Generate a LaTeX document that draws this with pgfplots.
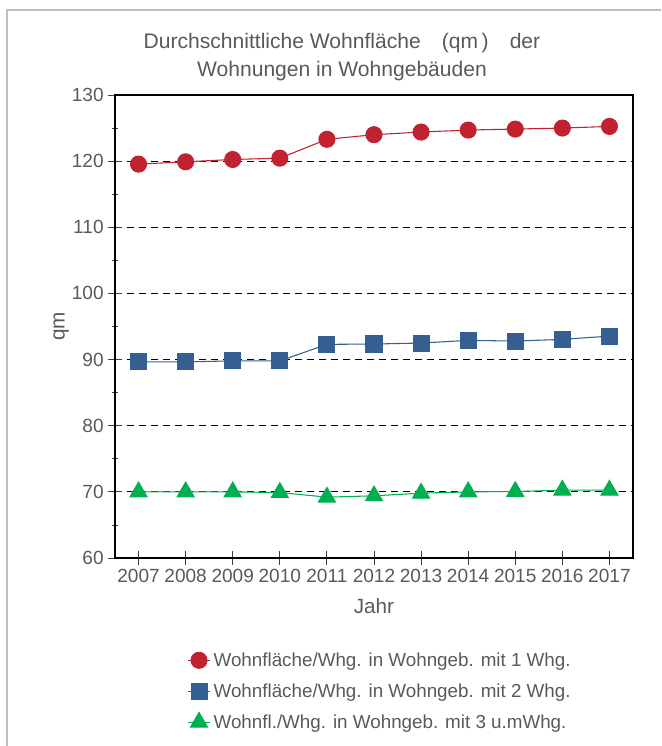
\documentclass[border=0pt]{standalone}
\usepackage{fontspec}
\setmainfont{Liberation Sans}
\usepackage{pgfplots}
\pgfplotsset{compat=1.18}
\definecolor{txt}{HTML}{595959}
\definecolor{cred}{HTML}{C0232F}
\definecolor{cblue}{HTML}{365F91}
\definecolor{cgreen}{HTML}{00B050}
\begin{document}
\begin{tikzpicture}
\path[use as bounding box] (0,0) rectangle (495.75pt,559.5pt);
\draw[black!25, line width=1.5pt] (5.25pt,0) -- (5.25pt,552pt) -- (495.75pt,552pt);
\node[text=txt, font=\fontsize{15.8}{18}\selectfont] at (256.5pt,527.5pt) {Durchschnittliche Wohnfläche\quad (qm\,)\quad der};
\node[text=txt, font=\fontsize{15.8}{18}\selectfont] at (256.5pt,506.5pt) {Wohnungen in Wohngebäuden};
\begin{axis}[at={(86.25pt,141pt)}, anchor=south west, scale only axis,
  width=388.5pt, height=347.25pt,
  xmin=2006.5, xmax=2017.5, ymin=60, ymax=130,
  xtick={2007,...,2017}, ytick={60,70,...,130}, minor ytick={65,75,...,125},
  /pgf/number format/assume math mode=true,
  xticklabel style={/pgf/number format/1000 sep=},
  tick label style={text=txt, font=\fontsize{14.3}{16}\selectfont},
  tick align=center, major tick length=10pt, minor tick length=5pt,
  tick style={black!75, line width=0.6pt},
  xtick pos=bottom, ytick pos=left,
  axis line style={black, line width=0.8pt},
  ymajorgrids, grid style={black, dash pattern=on 5.5pt off 3.5pt, line width=0.6pt},
  xlabel={Jahr}, ylabel={qm},
  every axis x label/.style={at={(axis description cs:0.5,-0.104)}, anchor=center, text=txt, font=\fontsize{15.5}{18}\selectfont},
  every axis y label/.style={at={(axis description cs:-0.104,0.5)}, rotate=90, anchor=center, text=txt, font=\fontsize{15.5}{18}\selectfont},
  legend style={at={(axis description cs:0.131,-0.192)}, anchor=north west, draw=none, fill=none,
    font=\fontsize{14.1}{16}\selectfont, text=txt, row sep=7.5pt, cells={anchor=west}},
  legend cell align=left,
]
\addplot[cred, line width=0.8pt, mark=*, mark size=6pt, mark options={fill=cred, draw=cred}] coordinates {
(2007,119.55) (2008,119.9) (2009,120.25) (2010,120.45) (2011,123.3) (2012,124.0)
(2013,124.4) (2014,124.7) (2015,124.85) (2016,125.0) (2017,125.25)};
\addlegendentry{Wohnfläche/Whg. in Wohngeb. mit 1 Whg.}
\addplot[cblue, line width=0.8pt, mark=square*, mark size=6pt, mark options={fill=cblue, draw=cblue}] coordinates {
(2007,89.65) (2008,89.65) (2009,89.8) (2010,89.8) (2011,92.3) (2012,92.35)
(2013,92.5) (2014,92.9) (2015,92.8) (2016,93.05) (2017,93.55)};
\addlegendentry{Wohnfläche/Whg. in Wohngeb. mit 2 Whg.}
\addplot[cgreen, line width=0.8pt, mark=triangle*, mark size=7.3pt, mark options={fill=cgreen, draw=cgreen}] coordinates {
(2007,70.0) (2008,70.0) (2009,70.0) (2010,69.9) (2011,69.2) (2012,69.4)
(2013,69.8) (2014,70.0) (2015,70.05) (2016,70.25) (2017,70.25)};
\addlegendentry{Wohnfl./Whg. in Wohngeb. mit 3 u.mWhg.}
\end{axis}
\end{tikzpicture}
\end{document}
